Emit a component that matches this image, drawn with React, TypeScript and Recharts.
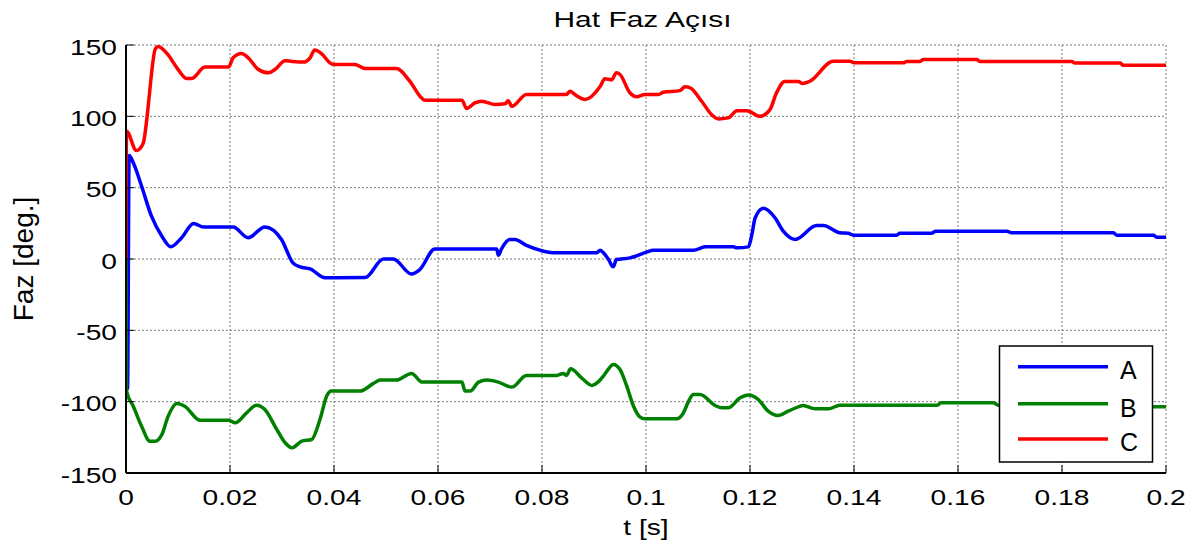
import { LineChart, Line, XAxis, YAxis, CartesianGrid } from 'recharts';

const timeTicks = [0, 0.02, 0.04, 0.06, 0.08, 0.1, 0.12, 0.14, 0.16, 0.18, 0.2];
const phaseTicks = [-150, -100, -50, 0, 50, 100, 150];

const seriesNames = ['A', 'B', 'C'];
const seriesColors = ['#0000ff', '#008000', '#ff0000'];

// phase A: [t, deg]
const phaseA = [
  [0, 0], [0.0003, -91], [0.0006, 72.5], [0.0014, 67.4], [0.003, 51], [0.0049, 30], [0.0069, 16],
  [0.0086, 8.5], [0.0107, 14.9], [0.013, 24.9], [0.0149, 22.5], [0.0206, 22.5], [0.0235, 14.9],
  [0.0267, 22.5], [0.0299, 13.7], [0.0321, -2.7], [0.0335, -5.5], [0.0354, -6.9], [0.0383, -13.2],
  [0.046, -13], [0.0495, 0], [0.0514, 0], [0.0549, -10.5], [0.0565, -7.4], [0.0594, 7], [0.0713, 7],
  [0.0716, 2.5], [0.0722, 7], [0.0738, 13.7], [0.0748, 13.7], [0.077, 9.5], [0.0796, 6.2],
  [0.0825, 4.3], [0.0905, 4.3], [0.0912, 6.2], [0.0919, 4], [0.0928, -0.4], [0.0937, -5.5],
  [0.0943, -0.4], [0.0969, 0.8], [0.1001, 4.8], [0.1014, 6.2], [0.1091, 6.2], [0.1114, 8.5],
  [0.1168, 8.5], [0.1175, 7.8], [0.1197, 8.5], [0.1203, 16], [0.121, 28.9], [0.1226, 35.5],
  [0.1248, 28.9], [0.1264, 19.5], [0.1287, 13.7], [0.1328, 23.5], [0.1341, 23.5], [0.1373, 18.4],
  [0.1389, 18], [0.1399, 16.7], [0.1482, 16.7], [0.1488, 18], [0.1549, 18], [0.1557, 19.5],
  [0.1694, 19.5], [0.1703, 18.4], [0.1899, 18.4], [0.1905, 16.7], [0.1976, 16.7], [0.1982, 15.3],
  [0.2, 15.3],
];

const phaseB = [
  [0, 0], [0.0001, -92.6], [0.0014, -103.2], [0.003, -117.2], [0.0046, -127.7], [0.0056, -127.7],
  [0.0069, -123], [0.0081, -110.2], [0.0098, -101.3], [0.0113, -103.2], [0.0142, -113], [0.0197, -113],
  [0.021, -114.8], [0.0232, -107.8], [0.0251, -102.5], [0.0267, -105.5], [0.029, -119.5],
  [0.0306, -128.8], [0.0319, -132.3], [0.0338, -127.7], [0.0357, -126.5], [0.0373, -112.5],
  [0.0386, -96.1], [0.0395, -92.6], [0.045, -92.6], [0.0476, -87.2], [0.0489, -84.9], [0.052, -84.9],
  [0.0549, -80.2], [0.057, -86.3], [0.0646, -86.3], [0.0652, -92.6], [0.0662, -92.6], [0.0678, -86.3],
  [0.0694, -84.9], [0.0716, -86.3], [0.0742, -89.8], [0.077, -81.6], [0.0828, -81.6], [0.0841, -80.2],
  [0.0847, -81.6], [0.0855, -77], [0.0876, -83.3], [0.0896, -88.6], [0.0918, -82.1], [0.0928, -77],
  [0.0937, -73.9], [0.095, -77.4], [0.0963, -89.1], [0.0976, -103.2], [0.0988, -110.6], [0.0998, -112],
  [0.1059, -112], [0.1072, -107.8], [0.1082, -99.6], [0.1091, -95], [0.1104, -95], [0.1133, -102.7],
  [0.1146, -104.3], [0.1158, -104.3], [0.1181, -97.3], [0.1197, -95.4], [0.1216, -98.5],
  [0.1235, -106.7], [0.1254, -109.7], [0.1273, -106.7], [0.1293, -103.6], [0.1302, -102.7],
  [0.1325, -105], [0.1351, -105], [0.1373, -102.5], [0.1559, -102.5], [0.1568, -100.8],
  [0.1668, -100.8], [0.1678, -102.5], [0.185, -102.5], [0.19, -103.6], [0.2, -103.6],
];

const phaseC = [
  [0, 0], [0.0001, 89.6], [0.002, 76], [0.0033, 81], [0.004, 98], [0.0046, 119], [0.005, 133],
  [0.0056, 147], [0.0062, 149], [0.0081, 143], [0.0098, 134], [0.0117, 126.5], [0.0126, 126.5],
  [0.0152, 134.5], [0.0197, 134.5], [0.0206, 141], [0.0222, 144], [0.0235, 141], [0.0254, 133],
  [0.0274, 130.5], [0.0287, 133], [0.0306, 139], [0.0319, 138.5], [0.0341, 138], [0.0354, 141],
  [0.0363, 146.5], [0.0376, 144], [0.0392, 137.5], [0.0399, 136.3], [0.044, 136.3], [0.046, 133.5],
  [0.052, 133.5], [0.0546, 124.5], [0.0568, 113], [0.0575, 111.3], [0.0646, 111.3], [0.0655, 105.5],
  [0.0671, 109.4], [0.0684, 110.6], [0.071, 108.3], [0.0729, 108.8], [0.0735, 111], [0.0742, 107],
  [0.077, 115.3], [0.0847, 115.3], [0.0854, 117.6], [0.0863, 115.3], [0.0883, 111.8], [0.0912, 121],
  [0.0921, 126.3], [0.0934, 125.6], [0.0943, 130.5], [0.095, 129.3], [0.0969, 116.5], [0.0982, 113.7],
  [0.0998, 115.3], [0.1024, 115.3], [0.1033, 116.9], [0.1065, 118], [0.1075, 120.7], [0.1085, 120],
  [0.1107, 110.6], [0.1126, 101.3], [0.1139, 98.2], [0.1158, 98.9], [0.1175, 104], [0.1194, 104],
  [0.1219, 100], [0.1238, 104.5], [0.1251, 116.5], [0.1267, 124.4], [0.1293, 124.4], [0.1301, 123],
  [0.1315, 124.6], [0.136, 138.6], [0.1392, 138.6], [0.1402, 137.5], [0.1495, 137.5], [0.1501, 138.4],
  [0.1527, 138.4], [0.1533, 139.8], [0.1636, 139.8], [0.1642, 138.4], [0.1819, 138.4],
  [0.1825, 137.3], [0.1912, 137.3], [0.1918, 135.8], [0.2, 135.8],
];

const toRows = (pts: number[][]) => pts.map(([t, v]) => ({ t, v }));
const seriesData = [phaseA, phaseB, phaseC].map(toRows);

const FONT = '"Liberation Sans", Arial, sans-serif';

const YTick = (p: any) => (
  <g transform={`translate(${p.x},${p.y + 9.5}) scale(1.28,1)`}>
    <text textAnchor="end" fontFamily={FONT} fontSize={22} fill="#000">{String(p.payload.value)}</text>
  </g>
);

const XTick = (p: any) => (
  <g transform={`translate(${p.x},505) scale(1.28,1)`}>
    <text textAnchor="middle" fontFamily={FONT} fontSize={22} fill="#000">{String(p.payload.value)}</text>
  </g>
);

export default function App() {
  return (
    <div style={{ position: 'absolute', left: 0, top: 0, width: 1200, height: 549, background: '#fff' }}>
      <LineChart width={1200} height={549} margin={{ top: 45, right: 34, bottom: 46, left: 26 }}>
        <CartesianGrid stroke="#7a7a7a" strokeDasharray="2 2" />
        <XAxis
          type="number"
          dataKey="t"
          domain={[0, 0.2]}
          ticks={timeTicks}
          allowDataOverflow
          height={30}
          axisLine={{ stroke: '#000', strokeWidth: 2 }}
          tickLine={{ stroke: '#000' }}
          tickSize={-8}
          tickMargin={8}
          tick={XTick}
        />
        <XAxis
          xAxisId="top"
          orientation="top"
          type="number"
          domain={[0, 0.2]}
          ticks={timeTicks}
          allowDataOverflow
          height={0}
          axisLine={{ stroke: '#000', strokeWidth: 2 }}
          tickLine={{ stroke: '#000' }}
          tickSize={-8}
          tick={false}
        />
        <YAxis
          type="number"
          domain={[-150, 150]}
          ticks={phaseTicks}
          allowDataOverflow
          width={100}
          axisLine={{ stroke: '#000', strokeWidth: 2 }}
          tickLine={{ stroke: '#000' }}
          tickSize={-8}
          tickMargin={17}
          tick={YTick}
        />
        <YAxis
          yAxisId="right"
          orientation="right"
          type="number"
          domain={[-150, 150]}
          ticks={phaseTicks}
          allowDataOverflow
          width={0}
          axisLine={{ stroke: '#000', strokeWidth: 2 }}
          tickLine={{ stroke: '#000' }}
          tickSize={-8}
          tick={false}
        />
        {seriesData.map((d, i) => (
          <Line
            key={seriesNames[i]}
            data={d}
            dataKey="v"
            name={seriesNames[i]}
            type="monotone"
            stroke={seriesColors[i]}
            strokeWidth={3.5}
            dot={false}
            isAnimationActive={false}
          />
        ))}
      </LineChart>
      <svg width={1200} height={549} style={{ position: 'absolute', left: 0, top: 0, pointerEvents: 'none' }}>
        <text x={642.5} y={27} textAnchor="middle" fontFamily={FONT} fontSize={22} textLength={178} lengthAdjust="spacingAndGlyphs">
          Hat Faz Açısı
        </text>
        <g transform="translate(646,535) scale(1.28,1)">
          <text textAnchor="middle" fontFamily={FONT} fontSize={22}>t [s]</text>
        </g>
        <text transform="translate(33,259) rotate(-90)" textAnchor="middle" fontFamily={FONT} fontSize={28}>
          Faz [deg.]
        </text>
        <rect x={999.5} y={346} width={153} height={116} fill="#fff" stroke="#000" strokeWidth={1.5} />
        {seriesNames.map((n, i) => {
          const ly = [366.7, 403.7, 439][i];
          return (
            <g key={n}>
              <line x1={1018} x2={1108} y1={ly} y2={ly} stroke={seriesColors[i]} strokeWidth={3.5} />
              <text x={1120} y={[379, 416.7, 451][i]} fontFamily={FONT} fontSize={25}>{n}</text>
            </g>
          );
        })}
      </svg>
    </div>
  );
}
